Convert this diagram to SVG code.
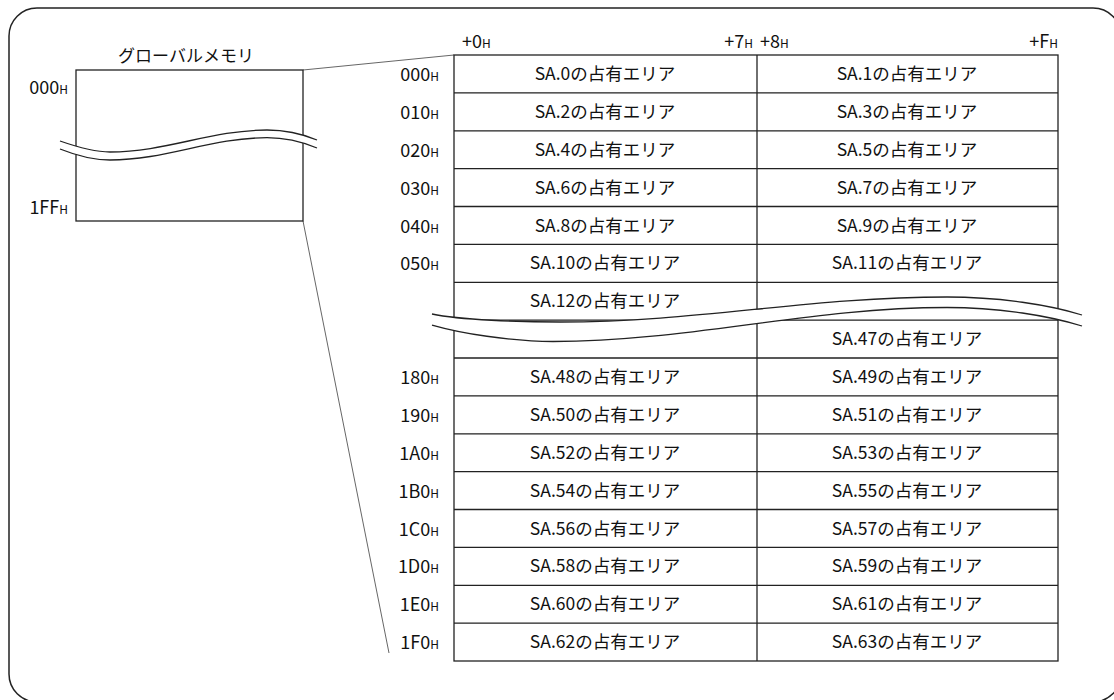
<svg xmlns="http://www.w3.org/2000/svg" width="1114" height="700" viewBox="0 0 1114 700">
<style>
  .frame{fill:none;stroke:#222;stroke-width:1.5}
  .box{fill:#fff;stroke:#222;stroke-width:1.3}
  .grid{fill:none;stroke:#222;stroke-width:1.3}
  .conn{fill:none;stroke:#555;stroke-width:0.9}
  .band{fill:#fff;stroke:none}
  .wave{fill:none;stroke:#222;stroke-width:1.3}
  text{font-family:"Noto Sans CJK JP","Noto Sans",sans-serif;fill:#111}
  .cell{font-size:17.5px;text-anchor:middle}
  .addr{font-size:18px;text-anchor:end}
  .hdr{font-size:18px}
  .h{font-size:12px}
  .title{font-size:17px;text-anchor:middle}
</style>
<rect class="frame" x="9" y="8" width="1112" height="694" rx="28" ry="28"/>

<g id="connectors">
  <line class="conn" x1="303" y1="70" x2="454" y2="55"/>
  <line class="conn" x1="303" y1="221" x2="389" y2="653"/>
</g>

<g id="global-memory">
  <text class="title" x="186" y="62">グローバルメモリ</text>
  <rect class="box" x="76" y="70" width="227" height="151"/>
  <text class="addr" x="68" y="94">000<tspan class="h">H</tspan></text>
  <text class="addr" x="68" y="214">1FF<tspan class="h">H</tspan></text>
  <path class="band" d="M60,141 C80,148 95,152 110,152 C166,152 211,130 267,130 C285,130 300,133 317,140 L317,148 C300,141 285,137.7 267,137.7 C211,137.7 166,160 110,160 C95,160 80,157 60,149 Z"/>
  <path class="wave" d="M60,141 C80,148 95,152 110,152 C166,152 211,130 267,130 C285,130 300,133 317,140"/>
  <path class="wave" d="M60,149 C80,157 95,160 110,160 C166,160 211,137.7 267,137.7 C285,137.7 300,141 317,148"/>
</g>

<g id="offset-header">
  <text class="hdr" x="462" y="48">+0<tspan class="h">H</tspan></text>
  <text class="hdr" x="753" y="48" text-anchor="end">+7<tspan class="h">H</tspan></text>
  <text class="hdr" x="760" y="48">+8<tspan class="h">H</tspan></text>
  <text class="hdr" x="1058" y="48" text-anchor="end">+F<tspan class="h">H</tspan></text>
</g>

<g id="occupied-area-table">
  <rect class="grid" x="454" y="55" width="604" height="606"/>
  <line class="grid" x1="757" y1="55" x2="757" y2="661"/>
  <path class="grid" d="M454,92.9H1058M454,130.8H1058M454,168.6H1058M454,206.5H1058M454,244.4H1058M454,282.3H1058M454,320.1H1058M454,358H1058M454,395.9H1058M454,433.8H1058M454,471.6H1058M454,509.5H1058M454,547.4H1058M454,585.3H1058M454,623.1H1058"/>

  <g id="row-000">
    <text class="addr" x="439" y="81">000<tspan class="h">H</tspan></text>
    <text class="cell" x="605" y="80">SA.0の占有エリア</text>
    <text class="cell" x="907" y="80">SA.1の占有エリア</text>
  </g>
  <g id="row-010">
    <text class="addr" x="439" y="118.9">010<tspan class="h">H</tspan></text>
    <text class="cell" x="605" y="117.9">SA.2の占有エリア</text>
    <text class="cell" x="907" y="117.9">SA.3の占有エリア</text>
  </g>
  <g id="row-020">
    <text class="addr" x="439" y="156.8">020<tspan class="h">H</tspan></text>
    <text class="cell" x="605" y="155.8">SA.4の占有エリア</text>
    <text class="cell" x="907" y="155.8">SA.5の占有エリア</text>
  </g>
  <g id="row-030">
    <text class="addr" x="439" y="194.6">030<tspan class="h">H</tspan></text>
    <text class="cell" x="605" y="193.6">SA.6の占有エリア</text>
    <text class="cell" x="907" y="193.6">SA.7の占有エリア</text>
  </g>
  <g id="row-040">
    <text class="addr" x="439" y="232.5">040<tspan class="h">H</tspan></text>
    <text class="cell" x="605" y="231.5">SA.8の占有エリア</text>
    <text class="cell" x="907" y="231.5">SA.9の占有エリア</text>
  </g>
  <g id="row-050">
    <text class="addr" x="439" y="270.4">050<tspan class="h">H</tspan></text>
    <text class="cell" x="605" y="269.4">SA.10の占有エリア</text>
    <text class="cell" x="907" y="269.4">SA.11の占有エリア</text>
  </g>
  <g id="row-sa12">
    <text class="cell" x="605" y="307.3">SA.12の占有エリア</text>
  </g>
  <g id="row-sa47">
    <text class="cell" x="907" y="345.1">SA.47の占有エリア</text>
  </g>
  <g id="row-180">
    <text class="addr" x="439" y="384">180<tspan class="h">H</tspan></text>
    <text class="cell" x="605" y="383">SA.48の占有エリア</text>
    <text class="cell" x="907" y="383">SA.49の占有エリア</text>
  </g>
  <g id="row-190">
    <text class="addr" x="439" y="421.9">190<tspan class="h">H</tspan></text>
    <text class="cell" x="605" y="420.9">SA.50の占有エリア</text>
    <text class="cell" x="907" y="420.9">SA.51の占有エリア</text>
  </g>
  <g id="row-1a0">
    <text class="addr" x="439" y="459.8">1A0<tspan class="h">H</tspan></text>
    <text class="cell" x="605" y="458.8">SA.52の占有エリア</text>
    <text class="cell" x="907" y="458.8">SA.53の占有エリア</text>
  </g>
  <g id="row-1b0">
    <text class="addr" x="439" y="497.6">1B0<tspan class="h">H</tspan></text>
    <text class="cell" x="605" y="496.6">SA.54の占有エリア</text>
    <text class="cell" x="907" y="496.6">SA.55の占有エリア</text>
  </g>
  <g id="row-1c0">
    <text class="addr" x="439" y="535.5">1C0<tspan class="h">H</tspan></text>
    <text class="cell" x="605" y="534.5">SA.56の占有エリア</text>
    <text class="cell" x="907" y="534.5">SA.57の占有エリア</text>
  </g>
  <g id="row-1d0">
    <text class="addr" x="439" y="573.4">1D0<tspan class="h">H</tspan></text>
    <text class="cell" x="605" y="572.4">SA.58の占有エリア</text>
    <text class="cell" x="907" y="572.4">SA.59の占有エリア</text>
  </g>
  <g id="row-1e0">
    <text class="addr" x="439" y="611.3">1E0<tspan class="h">H</tspan></text>
    <text class="cell" x="605" y="610.3">SA.60の占有エリア</text>
    <text class="cell" x="907" y="610.3">SA.61の占有エリア</text>
  </g>
  <g id="row-1f0">
    <text class="addr" x="439" y="649.1">1F0<tspan class="h">H</tspan></text>
    <text class="cell" x="605" y="648.1">SA.62の占有エリア</text>
    <text class="cell" x="907" y="648.1">SA.63の占有エリア</text>
  </g>

  <g id="table-break">
    <path class="band" d="M432,314 C460,320 520,322 560,322 C700,322 808,297 947,297 C1000,297 1050,305 1082,315 L1082,326 C1050,316 1000,307.5 947,307.5 C808,307.5 690,341.5 553,341.5 C510,341.5 460,333 432,325 Z"/>
    <path class="wave" d="M432,314 C460,320 520,322 560,322 C700,322 808,297 947,297 C1000,297 1050,305 1082,315"/>
    <path class="wave" d="M432,325 C460,333 510,341.5 553,341.5 C690,341.5 808,307.5 947,307.5 C1000,307.5 1050,316 1082,326"/>
  </g>
</g>
</svg>
